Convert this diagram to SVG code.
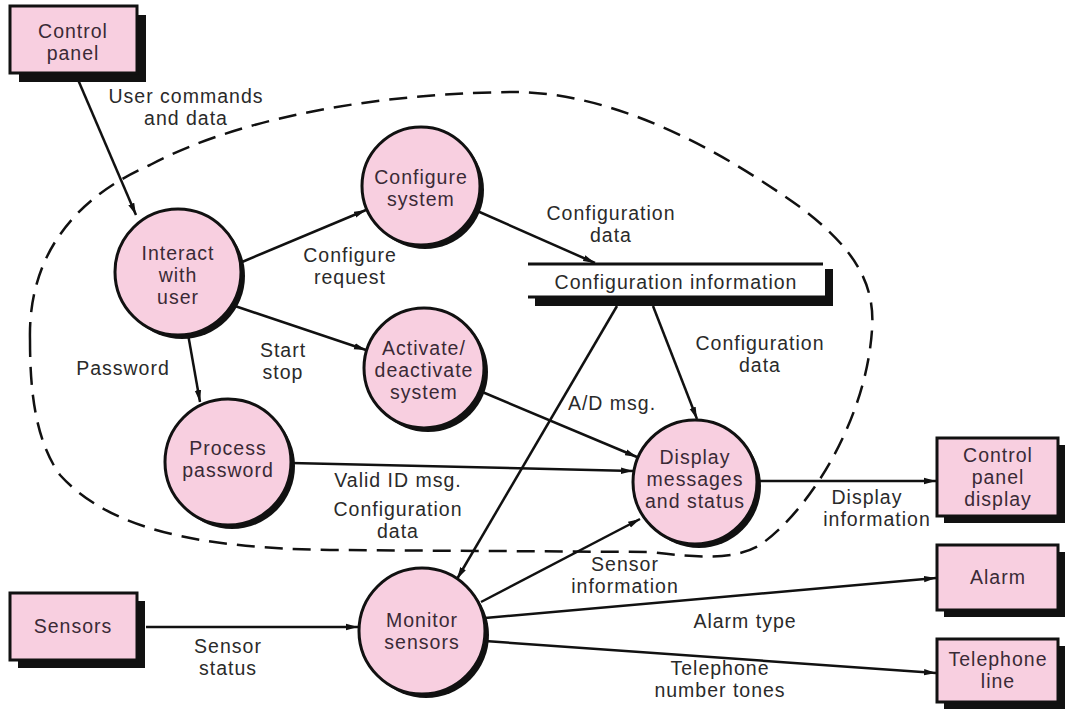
<svg xmlns="http://www.w3.org/2000/svg" width="1066" height="710" viewBox="0 0 1066 710">
<defs>
<marker id="arr" viewBox="0 0 12 8" refX="12" refY="4" markerWidth="12" markerHeight="8" markerUnits="userSpaceOnUse" orient="auto">
<path d="M0,0.8 L12,4 L0,7.2 Z" fill="#111"/>
</marker>
<style>
.bg{fill:#ffffff}
.box{fill:#f8cfe0;stroke:#111;stroke-width:3}
.sh{fill:#111}
.bub{fill:#f8cfe0;stroke:#111;stroke-width:3}
.nt{font-family:"Liberation Sans",Arial,sans-serif;font-size:19.5px;letter-spacing:1px;fill:#3a2a36;text-anchor:middle}
.lb{font-family:"Liberation Sans",Arial,sans-serif;font-size:19.5px;letter-spacing:1px;fill:#2a2a2a;text-anchor:middle}
.ln{stroke:#111;stroke-width:2.5;fill:none;marker-end:url(#arr)}
.dash{stroke:#111;stroke-width:2.5;fill:none;stroke-dasharray:18 10}
</style>
</defs>
<rect class="bg" x="0" y="0" width="1066" height="710"/>

<g id="boundary">
<path class="dash" d="M30,340 C28,260 70,200 150,165 C250,112 400,92 520,92 C620,95 720,150 800,207 C850,245 876,280 872,330 C866,420 810,510 760,545 C735,560 700,558 650,552 L330,550 C200,548 110,530 60,475 C35,440 30,390 30,340 Z"/>
</g>

<g id="connectors">
<line class="ln" x1="76" y1="75" x2="136" y2="215"/>
<line class="ln" x1="242" y1="262" x2="366" y2="210"/>
<line class="ln" x1="232" y1="305" x2="366" y2="350"/>
<line class="ln" x1="188" y1="334" x2="200" y2="402"/>
<line class="ln" x1="475" y1="210" x2="595" y2="263"/>
<line class="ln" x1="653" y1="306" x2="697" y2="419"/>
<line class="ln" x1="617" y1="306" x2="457" y2="579"/>
<line class="ln" x1="480" y1="391" x2="637" y2="457"/>
<line class="ln" x1="291" y1="463" x2="633" y2="471"/>
<line class="ln" x1="481" y1="602" x2="640" y2="519"/>
<line class="ln" x1="757" y1="481" x2="936" y2="481"/>
<line class="ln" x1="146" y1="627" x2="358" y2="627"/>
<line class="ln" x1="485" y1="618" x2="936" y2="578"/>
<line class="ln" x1="485" y1="641" x2="936" y2="673"/>
</g>

<g id="labels">
<text class="lb" x="186" y="103">User commands</text>
<text class="lb" x="186" y="125">and data</text>
<text class="lb" x="350" y="262">Configure</text>
<text class="lb" x="350" y="284">request</text>
<text class="lb" x="611" y="220">Configuration</text>
<text class="lb" x="611" y="242">data</text>
<text class="lb" x="760" y="350">Configuration</text>
<text class="lb" x="760" y="372">data</text>
<text class="lb" x="123" y="375">Password</text>
<text class="lb" x="283" y="357">Start</text>
<text class="lb" x="283" y="379">stop</text>
<text class="lb" x="612" y="410">A/D msg.</text>
<text class="lb" x="398" y="487">Valid ID msg.</text>
<text class="lb" x="398" y="516">Configuration</text>
<text class="lb" x="398" y="538">data</text>
<text class="lb" x="867" y="504">Display</text>
<text class="lb" x="877" y="526">information</text>
<text class="lb" x="625" y="571">Sensor</text>
<text class="lb" x="625" y="593">information</text>
<text class="lb" x="228" y="653">Sensor</text>
<text class="lb" x="228" y="675">status</text>
<text class="lb" x="745" y="628">Alarm type</text>
<text class="lb" x="720" y="675">Telephone</text>
<text class="lb" x="720" y="697">number tones</text>
</g>

<g id="control-panel">
<rect class="sh" x="19" y="15" width="127" height="67"/>
<rect class="box" x="10" y="6" width="127" height="67"/>
<text class="nt" x="73" y="38">Control</text>
<text class="nt" x="73" y="60">panel</text>
</g>

<g id="sensors">
<rect class="sh" x="18" y="601" width="127" height="67"/>
<rect class="box" x="10" y="593" width="127" height="67"/>
<text class="nt" x="73" y="633">Sensors</text>
</g>

<g id="control-panel-display">
<rect class="sh" x="944" y="445" width="121" height="78"/>
<rect class="box" x="937" y="438" width="121" height="78"/>
<text class="nt" x="998" y="462">Control</text>
<text class="nt" x="998" y="484">panel</text>
<text class="nt" x="998" y="506">display</text>
</g>

<g id="alarm">
<rect class="sh" x="944" y="552" width="121" height="65"/>
<rect class="box" x="937" y="545" width="121" height="65"/>
<text class="nt" x="998" y="584">Alarm</text>
</g>

<g id="telephone-line">
<rect class="sh" x="944" y="646" width="121" height="63"/>
<rect class="box" x="937" y="639" width="121" height="63"/>
<text class="nt" x="998" y="666">Telephone</text>
<text class="nt" x="998" y="688">line</text>
</g>

<g id="configuration-information">
<line x1="528" y1="264" x2="823" y2="264" stroke="#111" stroke-width="3"/>
<line x1="528" y1="297" x2="826" y2="297" stroke="#111" stroke-width="3"/>
<rect class="sh" x="535" y="298" width="298" height="8"/>
<rect class="sh" x="825" y="269" width="8" height="37"/>
<text class="lb" x="676" y="289">Configuration information</text>
</g>

<g id="interact-with-user">
<circle class="sh" cx="182" cy="276" r="63"/>
<circle class="bub" cx="178" cy="272" r="63"/>
<text class="nt" x="178" y="260">Interact</text>
<text class="nt" x="178" y="282">with</text>
<text class="nt" x="178" y="304">user</text>
</g>

<g id="configure-system">
<circle class="sh" cx="425" cy="190" r="59"/>
<circle class="bub" cx="421" cy="186" r="59"/>
<text class="nt" x="421" y="184">Configure</text>
<text class="nt" x="421" y="206">system</text>
</g>

<g id="activate-deactivate-system">
<circle class="sh" cx="428" cy="372" r="60"/>
<circle class="bub" cx="424" cy="368" r="60"/>
<text class="nt" x="424" y="355">Activate/</text>
<text class="nt" x="424" y="377">deactivate</text>
<text class="nt" x="424" y="399">system</text>
</g>

<g id="process-password">
<circle class="sh" cx="232" cy="466" r="63"/>
<circle class="bub" cx="228" cy="462" r="63"/>
<text class="nt" x="228" y="455">Process</text>
<text class="nt" x="228" y="477">password</text>
</g>

<g id="display-messages-and-status">
<circle class="sh" cx="699" cy="486" r="62"/>
<circle class="bub" cx="695" cy="482" r="62"/>
<text class="nt" x="695" y="464">Display</text>
<text class="nt" x="695" y="486">messages</text>
<text class="nt" x="695" y="508">and status</text>
</g>

<g id="monitor-sensors">
<circle class="sh" cx="426" cy="635" r="63"/>
<circle class="bub" cx="422" cy="631" r="63"/>
<text class="nt" x="422" y="627">Monitor</text>
<text class="nt" x="422" y="649">sensors</text>
</g>
</svg>
